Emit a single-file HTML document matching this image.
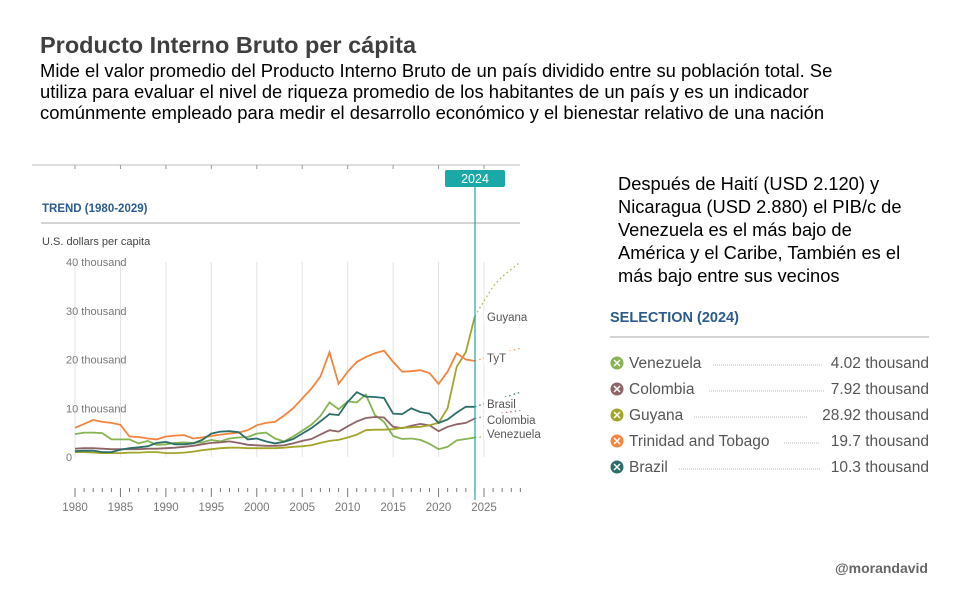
<!DOCTYPE html>
<html><head><meta charset="utf-8"><style>
body{margin:0;width:970px;height:610px;background:#fff;position:relative;overflow:hidden;font-family:"Liberation Sans",Arial,sans-serif}
.t{position:absolute;left:40px;top:31px;font-size:23.5px;line-height:28px;font-weight:bold;color:#3f3f3f;white-space:nowrap}
.s{position:absolute;left:40px;top:60px;font-size:18.4px;line-height:21px;color:#000;white-space:nowrap}
.r{position:absolute;left:618px;top:172px;font-size:18.3px;line-height:23px;color:#000;white-space:nowrap}
.m{position:absolute;right:42px;top:560px;font-size:14px;font-weight:bold;color:#666}
svg{position:absolute;left:0;top:0}
</style></head><body>
<div class="t">Producto Interno Bruto per cápita</div>
<div class="s">Mide el valor promedio del Producto Interno Bruto de un país dividido entre su población total. Se<br>utiliza para evaluar el nivel de riqueza promedio de los habitantes de un país y es un indicador<br>comúnmente empleado para medir el desarrollo económico y el bienestar relativo de una nación</div>
<div class="r">Después de Haití (USD 2.120) y<br>Nicaragua (USD 2.880) el PIB/c de<br>Venezuela es el más bajo de<br>América y el Caribe, También es el<br>más bajo entre sus vecinos</div>
<div class="m">@morandavid</div>
<svg id="c" width="970" height="610" font-family="Liberation Sans,Arial,sans-serif"></svg>
<script>
var s='';
var X=function(y){return 75+(y-1980)*409/45}, Y=function(v){return 457-v*4.875};
s+='<line x1="32" y1="165" x2="520" y2="165" stroke="#bbb"/>';
for(var y=1980;y<=2025;y+=5){s+='<line x1="'+X(y)+'" y1="165" x2="'+X(y)+'" y2="169" stroke="#999"/>';s+='<line x1="'+X(y)+'" y1="262" x2="'+X(y)+'" y2="457" stroke="#e3e3e3"/>';}
s+='<line x1="41" y1="223" x2="520" y2="223" stroke="#aaa"/>';
s+='<text x="42" y="212" font-size="11.5" font-weight="bold" fill="#2a5b8c">TREND (1980-2029)</text>';
s+='<text x="42" y="245" font-size="11" fill="#444">U.S. dollars per capita</text>';
[[40,'40 thousand'],[30,'30 thousand'],[20,'20 thousand'],[10,'10 thousand'],[0,'0']].forEach(function(a){s+='<text x="66" y="'+(Y(a[0])+4)+'" font-size="11" fill="#777">'+a[1]+'</text>'});
for(var y=1980;y<=2029;y++){var mj=y%5==0;s+='<line x1="'+X(y)+'" y1="488" x2="'+X(y)+'" y2="'+(mj?497:492)+'" stroke="#777"/>';if(mj)s+='<text x="'+X(y)+'" y="511" font-size="11.5" fill="#777" text-anchor="middle">'+y+'</text>';}
var D={
ven:['#86b452',[4.7,5,5,4.9,3.6,3.6,3.6,2.8,3.3,2.5,2.6,2.9,3,2.9,3,3.5,3.2,3.8,4,4.1,4.8,5,3.8,3.2,4.2,5.4,6.6,8.4,11.2,9.8,11.4,11.2,12.8,8.6,7.2,4.3,3.7,3.8,3.5,2.7,1.6,2.1,3.4,3.7,4.0],[4.0,4.2,4.4,4.6,4.8,5]],
col:['#8e6466',[1.7,1.8,1.8,1.7,1.6,1.6,1.6,1.6,1.7,1.7,1.8,1.9,2.1,2.3,2.6,2.9,3.0,3.2,2.9,2.5,2.4,2.3,2.3,2.4,2.8,3.3,3.7,4.6,5.5,5.2,6.3,7.3,8.0,8.2,8.1,6.2,5.9,6.4,6.8,6.5,5.3,6.2,6.7,7.0,7.9],[7.9,8.3,8.7,9.0,9.3,9.6]],
guy:['#a2a52a',[1.0,1.0,0.9,0.8,0.8,0.8,0.9,0.9,1.0,1.0,0.8,0.8,0.9,1.1,1.4,1.6,1.8,1.9,1.9,1.8,1.8,1.8,1.8,1.9,2.1,2.2,2.4,2.9,3.3,3.5,4.0,4.6,5.5,5.6,5.6,5.7,6.0,6.1,6.2,6.5,7.0,10,18.5,21.5,28.9],[28.9,32,35,37,38.5,40]],
tyt:['#f3843e',[6,6.8,7.6,7.2,7,6.6,4.2,4.1,3.8,3.6,4.2,4.4,4.5,3.8,4,4.3,4.6,4.8,5,5.5,6.5,7,7.2,8.5,10,12,14,16.5,21.5,15,17.5,19.5,20.5,21.3,21.8,19.5,17.5,17.6,17.8,17.2,15,17.5,21.3,20,19.7],[19.7,20.3,20.8,21.3,21.8,22.3]],
bra:['#2c6e69',[1.2,1.3,1.3,1,1,1.5,1.8,2,2.2,2.9,3.1,2.6,2.6,2.8,3.5,4.8,5.2,5.3,5.1,3.6,3.8,3.2,2.8,3.1,3.7,4.8,5.9,7.3,8.8,8.6,11.3,13.3,12.4,12.3,12.1,8.9,8.8,10,9.2,8.9,7,7.7,9.1,10.3,10.3],[10.3,10.9,11.5,12.1,12.7,13.3]]};
for(var k in D){var c=D[k],p='';c[1].forEach(function(v,i){p+=(i?'L':'M')+X(1980+i).toFixed(1)+','+Y(v).toFixed(1)});s+='<path d="'+p+'" fill="none" stroke="'+c[0]+'" stroke-width="1.8"/>';
p='';c[2].forEach(function(v,i){p+=(i?'L':'M')+X(2024+i).toFixed(1)+','+Y(v).toFixed(1)});s+='<path d="'+p+'" fill="none" stroke="'+c[0]+'" stroke-width="1.4" stroke-dasharray="1.5,3" opacity="0.8"/>';}
[['Guyana',321],['TyT',362],['Brasil',408],['Colombia',424],['Venezuela',438]].forEach(function(a){s+='<rect x="484" y="'+(a[1]-11)+'" width="46" height="13" fill="#fff"/><text x="487" y="'+a[1]+'" font-size="11.5" fill="#555">'+a[0]+'</text>'});
s+='<line x1="475" y1="180" x2="475" y2="500" stroke="#1aa9a6" stroke-width="1.2"/>';
s+='<rect x="445" y="170" width="60" height="17" rx="2" fill="#1aa9a6"/><text x="475" y="183" font-size="12.5" fill="#fff" text-anchor="middle">2024</text>';
s+='<text x="610" y="322" font-size="14.5" font-weight="bold" fill="#2a5b8c">SELECTION (2024)</text>';
s+='<line x1="610" y1="337" x2="929" y2="337" stroke="#aaa"/>';
[['Venezuela','4.02 thousand','#86b452',713,823],['Colombia','7.92 thousand','#8e6466',709,825],['Guyana','28.92 thousand','#a2a52a',694,808],['Trinidad and Tobago','19.7 thousand','#f3843e',784,820],['Brazil','10.3 thousand','#2c6e69',679,820]].forEach(function(a,i){var y=368+i*26;
s+='<circle cx="617" cy="'+(y-5)+'" r="6.5" fill="'+a[2]+'"/><path d="M614,'+(y-8)+'l6,6M620,'+(y-8)+'l-6,6" stroke="#fff" stroke-width="1.5"/>';
s+='<text x="629" y="'+y+'" font-size="15.5" fill="#555">'+a[0]+'</text>';
s+='<line x1="'+a[3]+'" y1="'+(y-3)+'" x2="'+a[4]+'" y2="'+(y-3)+'" stroke="#bbb" stroke-dasharray="1,1"/>';
s+='<text x="929" y="'+y+'" font-size="15.5" fill="#555" text-anchor="end">'+a[1]+'</text>';});
document.getElementById('c').innerHTML=s;
</script>
</body></html>
